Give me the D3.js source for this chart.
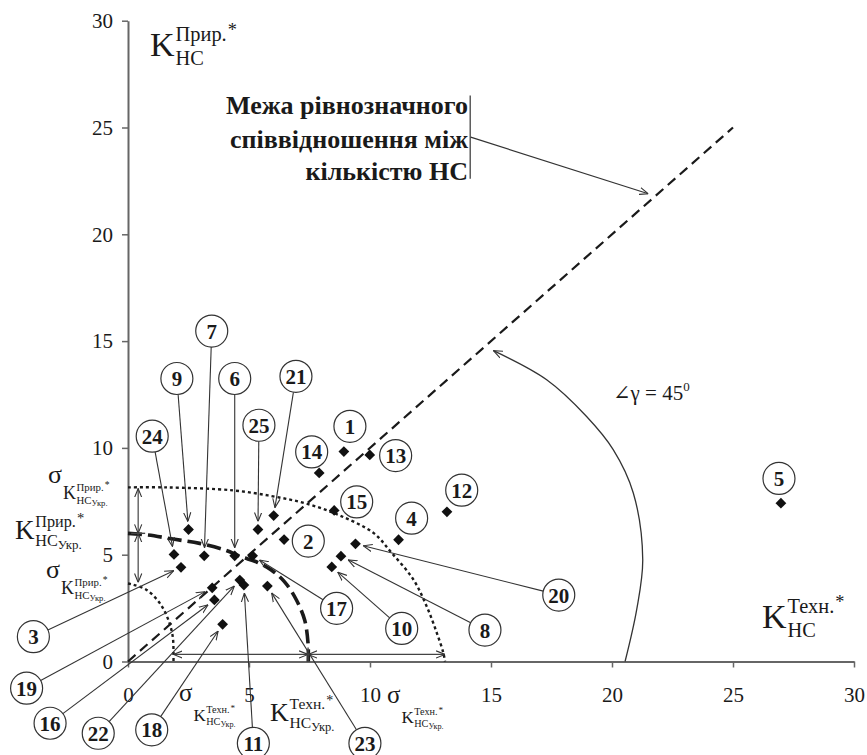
<!DOCTYPE html>
<html>
<head>
<meta charset="utf-8">
<script src="https://cdn.jsdelivr.net/npm/d3@7"></script>
<style>
  body { margin: 0; background: #fff; }
  svg { display: block; }
  svg text { font-family: "Liberation Serif", "Times New Roman", Times, "DejaVu Serif", serif; fill: #1a1a1a; }
</style>
</head>
<body>
<svg id="chart"></svg>
<script>
(function() {
    'use strict';

    // --- data ---
    var xTicks = [0, 5, 10, 15, 20, 25, 30];
    var yTicks = [0, 5, 10, 15, 20, 25, 30];

    var pointIds = [1, 2, 3, 4, 5, 6, 7, 8, 9, 10, 11, 12, 13, 14, 15, 16, 17, 18, 19, 20, 21, 22, 23, 24, 25];
    var techK = [8.92, 6.45, 2.19, 11.18, 26.98, 4.41, 3.15, 8.80, 2.50, 8.42, 4.79, 13.18, 9.99, 7.90, 8.52,
                 3.57, 5.15, 3.91, 3.48, 9.40, 6.02, 4.62, 5.76, 1.90, 5.37];
    var natK = [9.83, 5.71, 4.41, 5.70, 7.41, 4.95, 4.95, 4.93, 6.18, 4.43, 3.58, 7.01, 9.67, 8.83, 7.07,
                2.88, 4.95, 1.74, 3.45, 5.51, 6.83, 3.81, 3.53, 5.01, 6.18];

    // mean values and sigma bounds (Укр.)
    var natSigma = [8.1, 6.0, 3.7];      // upper, mean, lower
    var techSigma = [1.88, 7.44, 13.1];  // lower, mean, upper

    // traced boundary curves
    var meanCurve = [[0, 6.0], [0.83, 5.92], [1.93, 5.72], [2.96, 5.53], [4.0, 5.22], [4.68, 4.9], [5.3, 4.67],
                     [5.92, 4.28], [6.47, 3.73], [6.96, 2.88], [7.3, 1.94], [7.44, 0.85], [7.45, 0]];
    var upperCurve = [[0, 8.15], [1.6, 8.15], [4.34, 8.01], [6.0, 7.73], [7.38, 7.39], [8.76, 6.83], [10.14, 6.02],
                      [10.9, 5.08], [11.79, 3.84], [12.34, 2.59], [12.76, 1.34], [13.03, 0.41], [13.1, 0]];
    var lowerCurve = [[0, 3.65], [0.2, 3.6], [0.77, 3.35], [1.32, 2.72], [1.67, 1.94], [1.85, 1.16], [1.88, 0.3], [1.88, 0]];
    var equalLine = [[0, 0], [25, 25]];
    var gammaArc = [[20.54, 0], [21.02, 2.43], [21.27, 4.77], [20.88, 7.89], [20.05, 9.92], [18.95, 11.47],
                    [17.3, 13.19], [15.1, 14.55]];

    var points = pointIds.map(function(id, i) { return {id: id, x: techK[i], y: natK[i]}; });

    // callout circles: [id, x, y, hasArrow] in data units
    var callouts = [
        [1, 9.17, 11.01, false], [2, 7.45, 5.64, false], [3, -3.91, 1.16, true], [4, 11.72, 6.71, false],
        [5, 26.90, 8.57, false], [6, 4.41, 13.25, true], [7, 3.46, 15.47, true], [8, 14.75, 1.47, true],
        [9, 2.02, 13.25, true], [10, 11.31, 1.55, true], [11, 5.18, -3.83, true], [12, 13.79, 8.02, false],
        [13, 11.06, 9.64, false], [14, 7.59, 9.81, false], [15, 9.45, 7.47, false], [16, -3.22, -2.89, true],
        [17, 8.62, 2.49, true], [18, 0.98, -3.20, true], [19, -4.19, -1.25, true], [20, 17.80, 3.11, true],
        [21, 6.94, 13.35, true], [22, -1.23, -3.36, true], [23, 9.79, -3.83, true], [24, 1.00, 10.55, true],
        [25, 5.41, 11.06, true]
    ];

    var width = 867;
    var height = 755;
    var ink = '#1a1a1a';
    var grey = '#444';
    var serif = '"Liberation Serif", "Times New Roman", Times, "DejaVu Serif", serif';

    var x = d3.scaleLinear().domain([0, 30]).range([128, 854]);
    var y = d3.scaleLinear().domain([0, 30]).range([661.5, 20.7]);

    var svg = d3.select('#chart').attr('width', width).attr('height', height)
        .attr('font-family', serif);

    svg.append('defs').append('marker')
        .attr('id', 'arr')
        .attr('viewBox', '0 0 10 10')
        .attr('refX', 10).attr('refY', 5)
        .attr('markerWidth', 9).attr('markerHeight', 9)
        .attr('markerUnits', 'userSpaceOnUse')
        .attr('orient', 'auto-start-reverse')
        .append('path')
        .attr('d', 'M0,1L10,5L0,9')
        .attr('fill', 'none')
        .attr('stroke', '#333')
        .attr('stroke-width', 1.2);

    // axes
    var gx = svg.append('g')
        .attr('transform', 'translate(0,' + y(0) + ')')
        .call(d3.axisBottom(x).tickValues(xTicks).tickSize(6).tickSizeOuter(0).tickPadding(20));
    var gy = svg.append('g')
        .attr('transform', 'translate(' + x(0) + ',0)')
        .call(d3.axisLeft(y).tickValues(yTicks).tickSize(6).tickSizeOuter(0).tickPadding(9));
    [gx, gy].forEach(function(g) {
        g.attr('font-family', serif).attr('font-size', 21);
        g.select('.domain').attr('stroke', '#666').attr('stroke-width', 2);
        g.selectAll('.tick line').attr('stroke', '#666').attr('stroke-width', 1.5);
        g.selectAll('.tick text').attr('fill', '#333');
    });

    var line = d3.line()
        .x(function(d) { return x(d[0]); })
        .y(function(d) { return y(d[1]); });
    var smooth = d3.line()
        .x(function(d) { return x(d[0]); })
        .y(function(d) { return y(d[1]); })
        .curve(d3.curveCatmullRom.alpha(0.5));

    // equal ratio line
    svg.append('path').datum(equalLine).attr('d', line)
        .attr('fill', 'none').attr('stroke', ink).attr('stroke-width', 2.2).attr('stroke-dasharray', '10,6');

    // sigma / mean curves
    svg.append('path').datum(upperCurve).attr('d', smooth)
        .attr('fill', 'none').attr('stroke', ink).attr('stroke-width', 2.4).attr('stroke-dasharray', '3,3');
    svg.append('path').datum(lowerCurve).attr('d', smooth)
        .attr('fill', 'none').attr('stroke', ink).attr('stroke-width', 2.4).attr('stroke-dasharray', '3,3');
    svg.append('path').datum(meanCurve).attr('d', smooth)
        .attr('fill', 'none').attr('stroke', ink).attr('stroke-width', 3.6).attr('stroke-dasharray', '14,6');

    // interval arrows along the axes
    var vx = 0.42, hy = 0.33;
    function seg(p0, p1) {
        svg.append('path').datum([p0, p1]).attr('d', line)
            .attr('fill', 'none').attr('stroke', grey).attr('stroke-width', 1.2)
            .attr('marker-start', 'url(#arr)').attr('marker-end', 'url(#arr)');
    }
    seg([vx, natSigma[1]], [vx, natSigma[0]]);
    seg([vx, natSigma[1]], [vx, natSigma[2]]);
    seg([techSigma[1], hy], [techSigma[0], hy]);
    seg([techSigma[1], hy], [techSigma[2], hy]);
    // cross ticks at the means
    svg.append('line').attr('x1', x(vx) - 7).attr('x2', x(vx) + 7)
        .attr('y1', y(natSigma[1])).attr('y2', y(natSigma[1])).attr('stroke', grey).attr('stroke-width', 1.4);
    svg.append('line').attr('x1', x(techSigma[1])).attr('x2', x(techSigma[1]))
        .attr('y1', y(hy) - 7).attr('y2', y(0)).attr('stroke', grey).attr('stroke-width', 1.4);

    // 45 degree arc
    svg.append('path').datum(gammaArc).attr('d', smooth)
        .attr('fill', 'none').attr('stroke', '#333').attr('stroke-width', 1.3)
        .attr('marker-end', 'url(#arr)');

    // annotation
    var annot = ['Межа рівнозначного', 'співвідношення між', 'кількістю НС'];
    var annotX = 14.05;
    var annotY = [25.65, 24.06, 22.52];
    svg.selectAll('.annot').data(annot).join('text')
        .attr('class', 'annot')
        .attr('x', x(annotX))
        .attr('y', function(d, i) { return y(annotY[i]); })
        .attr('text-anchor', 'end')
        .attr('font-weight', 'bold')
        .attr('font-size', 26)
        .text(function(d) { return d; });
    svg.append('line').attr('x1', x(14.14)).attr('x2', x(14.14)).attr('y1', y(26.5)).attr('y2', y(22.6))
        .attr('stroke', '#333').attr('stroke-width', 1.2);
    svg.append('path').datum([[14.16, 24.55], [21.5, 21.9]]).attr('d', line)
        .attr('fill', 'none').attr('stroke', '#333').attr('stroke-width', 1.2).attr('marker-end', 'url(#arr)');

    var gam = svg.append('text').attr('x', x(20.04)).attr('y', y(12.24)).attr('font-size', 21);
    gam.append('tspan').text('\u2220\u03b3 = 45');
    gam.append('tspan').attr('font-size', 13).attr('dy', -9).text('0');

    // leaders for the callouts
    var byId = {};
    points.forEach(function(p) { byId[p.id] = p; });
    var r = 16;
    callouts.forEach(function(c) {
        if (!c[3]) return;
        var p = byId[c[0]];
        var cx = x(c[1]), cy = y(c[2]), px = x(p.x), py = y(p.y);
        var dx = px - cx, dy = py - cy, len = Math.sqrt(dx * dx + dy * dy);
        var ux = dx / len, uy = dy / len;
        svg.append('line')
            .attr('x1', cx + ux * r).attr('y1', cy + uy * r)
            .attr('x2', px - ux * 8).attr('y2', py - uy * 8)
            .attr('stroke', '#333').attr('stroke-width', 1.1)
            .attr('marker-end', 'url(#arr)');
    });

    // points
    svg.selectAll('.pt').data(points).join('path')
        .attr('class', 'pt')
        .attr('d', d3.symbol(d3.symbolSquare, 58))
        .attr('transform', function(d) { return 'translate(' + x(d.x) + ',' + y(d.y) + ') rotate(45)'; })
        .attr('fill', '#111');

    // callout circles
    var cg = svg.selectAll('.callout').data(callouts).join('g')
        .attr('class', 'callout')
        .attr('transform', function(d) { return 'translate(' + x(d[1]) + ',' + y(d[2]) + ')'; });
    cg.append('circle').attr('r', r).attr('fill', '#fff').attr('stroke', '#333').attr('stroke-width', 1.2);
    cg.append('text').attr('text-anchor', 'middle').attr('dy', 7.5)
        .attr('font-weight', 'bold').attr('font-size', 21)
        .text(function(d) { return d[0]; });

    // K notation helpers
    function kSym(x0, y0, fs, sup, sub, subsub) {
        var t = svg.append('text').attr('x', x0).attr('y', y0).attr('font-size', fs).text('K');
        var fx = x0 + t.node().getComputedTextLength() + fs * 0.03;
        var s = fs * 0.6;
        var supT = svg.append('text').attr('x', fx).attr('y', y0 - fs * 0.45).attr('font-size', s).text(sup);
        svg.append('text').attr('x', fx + supT.node().getComputedTextLength() + 1)
            .attr('y', y0 - fs * 0.6).attr('font-size', s * 0.9).text('*');
        var subT = svg.append('text').attr('x', fx).attr('y', y0 + fs * 0.25).attr('font-size', s).text(sub);
        if (subsub) {
            svg.append('text').attr('x', fx + subT.node().getComputedTextLength())
                .attr('y', y0 + fs * 0.38).attr('font-size', s * 0.8).text(subsub);
        }
    }
    function sigmaSym(x0, y0, fs, kfs, kdy, sup) {
        var t = svg.append('text').attr('x', x0).attr('y', y0).attr('font-size', fs).text('\u03c3');
        kSym(x0 + t.node().getComputedTextLength() + 1, y0 + kdy, kfs, sup, 'НС', 'Укр.');
    }

    kSym(150, 56, 34, 'Прир.', 'НС', null);
    kSym(762, 628, 34, 'Техн.', 'НС', null);
    kSym(15, 539, 27, 'Прир.', 'НС', 'Укр.');
    sigmaSym(48, 483, 26, 18, 16, 'Прир.');
    sigmaSym(46, 578, 26, 18, 16, 'Прир.');
    sigmaSym(179, 701, 25, 17, 20, 'Техн.');
    kSym(270, 721, 26, 'Техн.', 'НС', 'Укр.');
    sigmaSym(387, 703, 25, 17, 20, 'Техн.');
})();
</script>
</body>
</html>
